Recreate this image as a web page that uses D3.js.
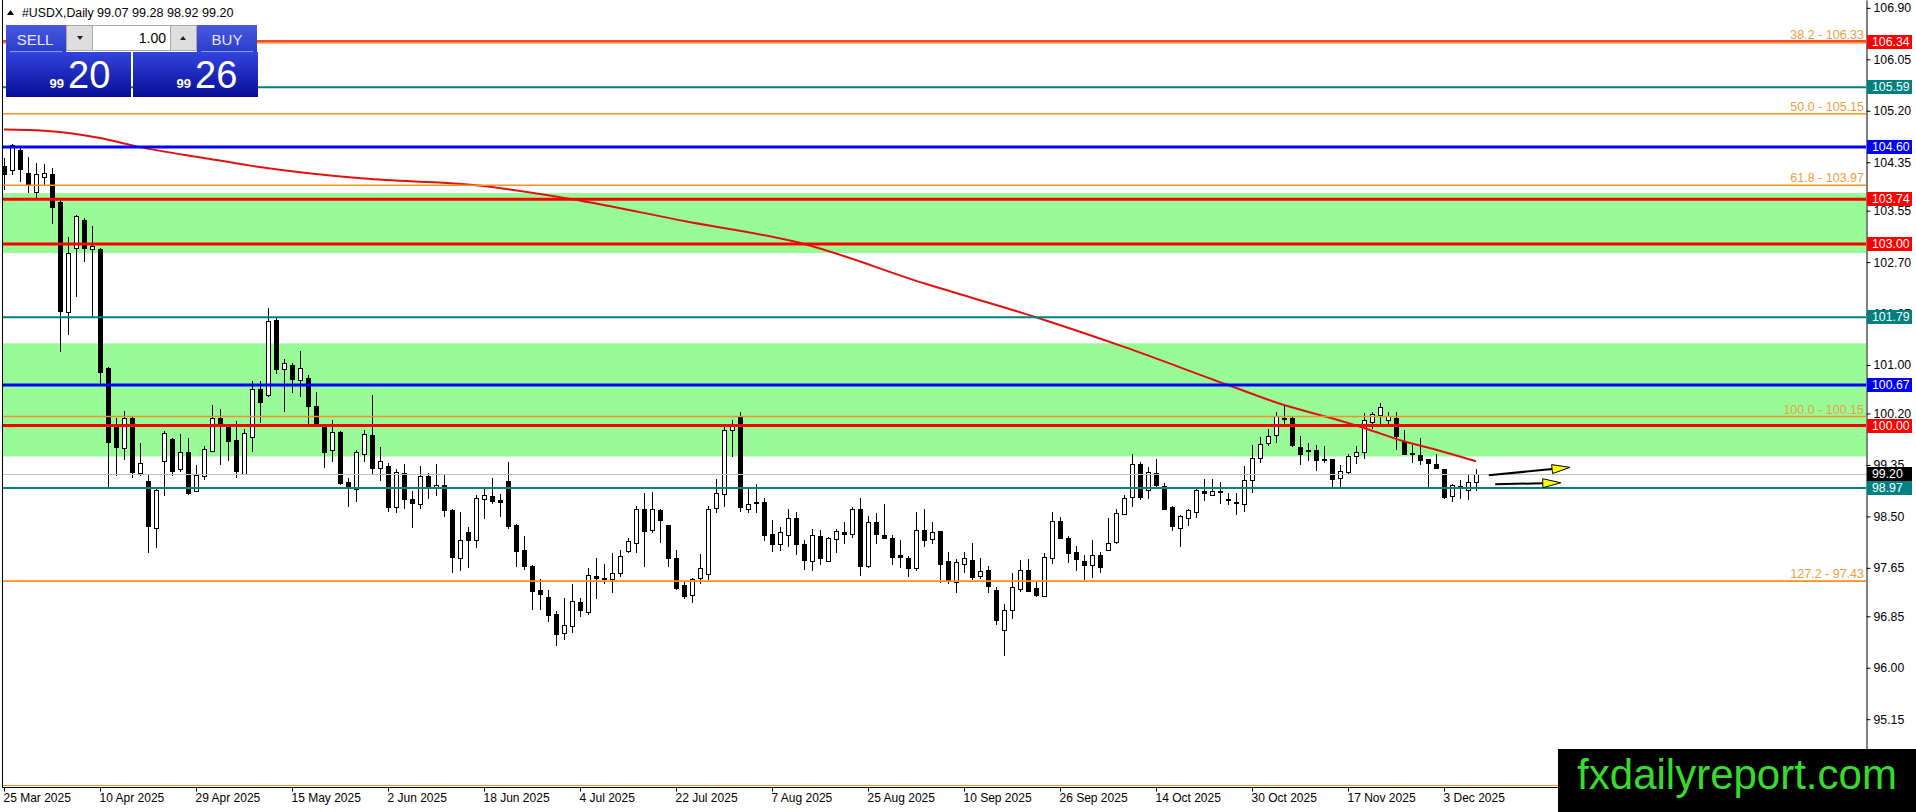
<!DOCTYPE html>
<html>
<head>
<meta charset="utf-8">
<script src="https://cdn.jsdelivr.net/npm/d3@7"></script>
<style>
html, body { margin: 0; padding: 0; background: #fff; overflow: hidden; }
svg { display: block; font-family: "Liberation Sans", Arial, sans-serif; }
</style>
</head>
<body>
<svg id="chart" width="1916" height="812"></svg>
<script>
// values
var symbol = "#USDX,Daily";
var bid = 99.20, ask = 99.26, lots = "1.00";

var opens = [104.28,104.21,104.55,104.18,103.85,104.11,104.15,103.70,101.88,102.94,
  103.40,102.91,102.92,100.95,99.98,99.63,100.13,99.23,99.08,98.31,
  99.40,99.78,99.28,99.56,98.91,99.17,99.58,100.13,99.97,99.76,
  99.19,99.81,100.60,100.51,101.75,100.93,101.00,100.76,100.78,100.32,
  99.98,99.59,99.90,99.06,98.95,99.53,99.84,99.29,99.33,98.66,
  99.21,98.78,98.70,99.17,98.98,99.02,98.61,97.81,98.24,98.10,
  98.78,98.83,98.77,99.08,98.36,97.94,97.68,97.28,97.17,96.88,
  96.56,96.68,97.09,96.92,97.51,97.48,97.46,97.56,97.94,98.06,
  98.62,98.27,98.60,98.36,97.82,97.36,97.19,97.47,97.56,98.63,
  98.87,99.93,100.15,98.62,98.74,98.73,98.21,98.04,98.20,98.47,
  98.04,97.76,98.18,97.76,98.12,98.24,98.20,98.62,97.67,98.40,
  98.20,98.15,97.86,97.81,97.66,98.28,98.14,98.26,97.77,97.41,
  97.72,97.78,97.51,97.61,97.29,96.62,96.95,97.31,97.62,97.31,
  97.19,97.82,98.43,98.15,97.92,97.77,97.70,97.86,97.94,98.08,
  98.55,98.81,99.36,98.93,99.21,99.01,98.66,98.32,98.46,98.57,
  98.92,98.86,98.92,98.78,98.73,98.71,99.11,99.46,99.72,99.84,
  100.13,100.13,99.65,99.60,99.60,99.44,99.45,99.14,99.24,99.49,
  99.56,100.06,100.17,100.10,100.12,99.75,99.55,99.51,99.45,99.36,
  99.29,98.84,99.01,98.94,99.07];
var highs = [104.42,104.65,104.58,104.44,104.33,104.32,104.26,103.73,103.12,103.48,
  103.43,103.29,102.94,100.96,100.12,100.24,100.15,99.71,99.18,98.95,
  99.91,99.80,99.86,99.80,99.35,99.67,100.34,100.28,100.02,100.08,
  99.94,100.73,100.74,101.94,101.77,101.10,101.03,101.23,100.84,100.55,
  99.99,100.09,99.91,99.13,99.60,99.92,100.51,99.65,99.39,99.28,
  99.37,98.92,99.34,99.21,99.37,99.18,98.62,98.57,98.33,98.85,
  98.96,99.13,98.87,99.40,98.38,98.17,97.69,97.47,97.29,96.94,
  97.15,97.39,97.16,97.64,97.82,97.72,97.89,97.94,98.14,98.67,
  98.88,98.91,98.62,98.36,97.95,97.42,97.49,97.88,98.67,99.11,
  99.98,100.09,100.23,98.95,99.03,98.81,98.44,98.32,98.63,98.58,
  98.11,98.29,98.27,98.16,98.29,98.40,98.66,98.80,98.51,98.55,
  98.70,98.20,98.11,97.84,98.58,98.62,98.41,98.26,97.92,97.79,
  97.92,98.06,97.82,97.68,97.34,97.05,97.57,97.78,97.79,97.42,
  97.89,98.58,98.49,98.17,98.01,97.86,98.11,97.92,98.47,98.63,
  98.86,99.53,99.40,99.32,99.44,99.05,98.67,98.52,98.63,98.96,
  99.11,99.11,99.07,98.88,98.89,99.33,99.68,99.81,99.95,100.22,
  100.34,100.14,99.83,99.72,99.68,99.67,99.45,99.35,99.53,99.66,
  100.20,100.22,100.37,100.22,100.22,99.93,99.68,99.79,99.45,99.53,
  99.29,99.03,99.10,99.18,99.28];
var lows = [103.89,104.14,104.03,103.84,103.76,103.98,103.33,101.22,101.49,102.13,
  102.70,101.78,100.68,98.99,99.17,99.43,99.13,99.17,97.89,97.98,
  98.83,99.17,99.23,98.86,98.90,99.10,99.56,99.35,99.41,99.13,
  99.18,99.57,100.05,100.47,100.86,100.23,100.54,100.48,100.01,99.98,
  99.30,99.40,99.02,98.66,98.74,99.40,99.18,99.09,98.58,98.55,
  98.63,98.31,98.63,98.78,98.83,98.49,97.57,97.59,97.65,97.98,
  98.45,98.70,98.49,98.30,97.67,97.61,96.96,96.96,96.75,96.36,
  96.45,96.58,96.83,96.87,97.14,97.39,97.24,97.50,97.89,97.90,
  97.67,98.23,98.06,97.67,97.28,97.14,97.07,97.39,97.45,98.55,
  98.66,99.48,98.58,98.56,98.56,98.10,97.92,97.93,98.00,97.86,
  97.61,97.60,97.70,97.75,97.90,98.04,98.15,97.51,97.64,98.04,
  98.13,97.70,97.64,97.50,97.59,97.99,98.04,97.40,97.39,97.23,
  97.57,97.45,97.46,97.24,96.70,96.19,96.80,97.25,97.25,97.17,
  97.17,97.72,98.12,97.73,97.60,97.45,97.49,97.57,97.93,98.05,
  98.52,98.66,98.77,98.79,98.99,98.63,98.26,98.00,98.34,98.48,
  98.76,98.84,98.70,98.69,98.52,98.58,98.88,99.39,99.66,99.71,
  100.01,99.64,99.35,99.42,99.25,99.39,98.98,98.98,99.20,99.36,
  99.45,99.94,100.01,100.02,99.60,99.53,99.39,99.35,98.99,99.28,
  98.78,98.74,98.78,98.77,98.92];
var closes = [104.15,104.63,104.23,103.98,104.15,104.17,103.60,101.90,102.85,103.47,
  102.93,102.96,100.89,99.73,99.65,100.13,99.24,99.39,98.33,98.93,
  99.87,99.25,99.56,98.89,99.18,99.61,100.13,100.02,99.74,99.24,
  99.87,100.60,100.38,101.73,100.94,101.03,100.77,100.95,100.32,99.99,
  99.57,99.89,99.06,98.99,99.56,99.86,99.30,99.41,98.66,99.24,
  98.78,98.71,99.17,98.98,99.02,98.61,97.83,98.11,98.10,98.80,
  98.85,98.74,98.73,98.33,97.93,97.67,97.27,97.22,96.88,96.55,
  96.70,97.10,96.96,97.53,97.47,97.46,97.56,97.84,98.10,98.62,
  98.25,98.62,98.43,97.82,97.33,97.18,97.46,97.64,98.63,98.88,
  99.93,100.03,98.67,98.71,98.73,98.18,98.05,98.24,98.48,98.04,
  97.77,98.19,97.81,98.14,98.26,98.20,98.62,97.68,98.40,98.20,
  98.15,97.83,97.82,97.65,98.28,98.12,98.25,97.71,97.45,97.74,
  97.82,97.50,97.60,97.34,96.80,96.95,97.33,97.62,97.27,97.20,
  97.83,98.43,98.15,97.90,97.80,97.71,97.86,97.67,98.06,98.56,
  98.81,99.36,98.81,99.23,99.02,98.63,98.34,98.51,98.60,98.93,
  98.88,98.92,98.90,98.79,98.71,99.10,99.47,99.69,99.83,100.16,
  100.11,99.68,99.53,99.58,99.44,99.43,99.12,99.25,99.50,99.56,
  100.09,100.19,100.30,100.16,99.83,99.54,99.53,99.43,99.38,99.29,
  98.83,99.02,98.99,99.07,99.20];

var dateLabels = ["25 Mar 2025","10 Apr 2025","29 Apr 2025","15 May 2025","2 Jun 2025",
  "18 Jun 2025","4 Jul 2025","22 Jul 2025","7 Aug 2025","25 Aug 2025","10 Sep 2025",
  "26 Sep 2025","14 Oct 2025","30 Oct 2025","17 Nov 2025","3 Dec 2025"];
var dateBars = [0,12,24,36,48,60,72,84,96,108,120,132,144,156,168,180];

var priceTicks = [106.90,106.05,105.20,104.35,103.55,102.70,101.85,101.00,
  100.20,99.35,98.50,97.65,96.85,96.00,95.15];

var levelValues = [106.34,105.59,104.60,103.74,103.00,101.79,100.67,100.00,98.97];
var levelKinds = ["zone","pivot","major","zone","zone","pivot","major","zone","pivot"];

var zoneTops = [103.84,101.36];
var zoneBottoms = [102.85,99.49];

var fibRatios = ["38.2","50.0","61.8","100.0","127.2"];
var fibValues = [106.33,105.15,103.97,100.15,97.43];

var maBars = [0,5,12,17,25,31,45,59,71,85,100,115,129,140,153,160,166,170,175,179,184];
var maValues = [104.89,104.87,104.75,104.60,104.42,104.29,104.08,103.97,103.74,103.38,
  103.00,102.35,101.79,101.30,100.67,100.34,100.12,99.96,99.74,99.60,99.41];

var arrowStartBar = [185.6,186.4];
var arrowStartPrice = [99.18,99.03];
var arrowEndBar = [195.75,194.6];
var arrowEndPrice = [99.31,99.055];

// ---- drawing ----
var svg = d3.select("#chart");
var plotRight = 1866, plotBottom = 787;

var x = d3.scaleLinear().domain([0, 184]).range([4, 1476]);
var y = d3.scaleLinear().domain([94.03, 107.03]).range([plotBottom, 0]);

var kindStyle = {
  zone: { color: "#ff0000", width: 3 },
  pivot: { color: "#008080", width: 2 },
  major: { color: "#0000ff", width: 3 }
};

var defs = svg.append("defs");
defs.append("clipPath").attr("id", "plotClip")
  .append("rect").attr("x", 2).attr("y", 0)
  .attr("width", plotRight - 2).attr("height", plotBottom);

var priceGrad = defs.append("linearGradient").attr("id", "priceGrad")
  .attr("x1", 0).attr("y1", 0).attr("x2", 0).attr("y2", 1);
priceGrad.append("stop").attr("offset", "0%").attr("stop-color", "#3244dc");
priceGrad.append("stop").attr("offset", "100%").attr("stop-color", "#080d98");

var btnGrad = defs.append("linearGradient").attr("id", "btnGrad")
  .attr("x1", 0).attr("y1", 0).attr("x2", 0).attr("y2", 1);
btnGrad.append("stop").attr("offset", "0%").attr("stop-color", "#4858e0");
btnGrad.append("stop").attr("offset", "100%").attr("stop-color", "#2c3dcc");

var plot = svg.append("g").attr("clip-path", "url(#plotClip)");

// green zones behind the candles
plot.selectAll("rect.zone")
  .data(zoneTops)
  .join("rect")
  .attr("class", "zone")
  .attr("x", 2)
  .attr("width", plotRight - 2)
  .attr("y", d => y(d))
  .attr("height", (d, i) => y(zoneBottoms[i]) - y(d))
  .attr("fill", "#98fb98");

// candles
var bars = d3.range(opens.length);
var cx = i => Math.round(x(i));

plot.selectAll("line.wick")
  .data(bars)
  .join("line")
  .attr("class", "wick")
  .attr("x1", i => cx(i) + 0.5)
  .attr("x2", i => cx(i) + 0.5)
  .attr("y1", i => Math.round(y(highs[i])))
  .attr("y2", i => Math.round(y(lows[i])))
  .attr("stroke", "#000")
  .attr("stroke-width", 1);

plot.selectAll("rect.body")
  .data(bars)
  .join("rect")
  .attr("class", "body")
  .attr("x", i => cx(i) - 1.5)
  .attr("width", 4)
  .attr("y", i => Math.round(y(Math.max(opens[i], closes[i]))) + 0.5)
  .attr("height", i => Math.max(1, Math.round(Math.abs(y(opens[i]) - y(closes[i])))))
  .attr("fill", i => closes[i] >= opens[i] ? "#fff" : "#000")
  .attr("stroke", "#000")
  .attr("stroke-width", 1);

// moving average
var maLine = d3.line()
  .x((d, k) => x(maBars[k]))
  .y(d => y(d))
  .curve(d3.curveMonotoneX);

plot.append("path")
  .attr("d", maLine(maValues))
  .attr("fill", "none")
  .attr("stroke", "#e01010")
  .attr("stroke-width", 2);

// horizontal levels
plot.selectAll("line.level")
  .data(levelValues)
  .join("line")
  .attr("class", "level")
  .attr("x1", 2)
  .attr("x2", plotRight)
  .attr("y1", d => y(d))
  .attr("y2", d => y(d))
  .attr("stroke", (d, i) => kindStyle[levelKinds[i]].color)
  .attr("stroke-width", (d, i) => kindStyle[levelKinds[i]].width);

// bid line
plot.append("line")
  .attr("x1", 2).attr("x2", plotRight)
  .attr("y1", Math.round(y(bid)) + 0.5).attr("y2", Math.round(y(bid)) + 0.5)
  .attr("stroke", "#c0c0c0");

// fibonacci levels
plot.selectAll("line.fib")
  .data(fibValues)
  .join("line")
  .attr("class", "fib")
  .attr("x1", 2)
  .attr("x2", plotRight)
  .attr("y1", d => y(d))
  .attr("y2", d => y(d))
  .attr("stroke", "#f7901e")
  .attr("stroke-width", 1.6);

plot.append("line")
  .attr("x1", 2).attr("x2", plotRight)
  .attr("y1", plotBottom - 1.5).attr("y2", plotBottom - 1.5)
  .attr("stroke", "#f7901e").attr("stroke-width", 1);

plot.selectAll("text.fib")
  .data(fibValues)
  .join("text")
  .attr("class", "fib")
  .attr("x", plotRight - 2)
  .attr("y", d => y(d) - 3)
  .attr("text-anchor", "end")
  .attr("font-size", "12.5px")
  .attr("fill", "#eba03c")
  .text((d, i) => fibRatios[i] + " - " + d.toFixed(2));

// yellow arrows
var arrows = plot.selectAll("g.arrow")
  .data(arrowStartBar)
  .join("g")
  .attr("class", "arrow");

arrows.each(function(d, i) {
  var x0 = x(d), y0 = y(arrowStartPrice[i]);
  var x1 = x(arrowEndBar[i]), y1 = y(arrowEndPrice[i]);
  var len = Math.hypot(x1 - x0, y1 - y0);
  var ux = (x1 - x0) / len, uy = (y1 - y0) / len;
  var bx = x1 - ux * 18, by = y1 - uy * 18;
  var g = d3.select(this);
  g.append("line")
    .attr("x1", x0).attr("y1", y0).attr("x2", bx).attr("y2", by)
    .attr("stroke", "#000").attr("stroke-width", 2);
  g.append("path")
    .attr("d", "M" + (bx - uy * 4.5) + "," + (by + ux * 4.5) +
      "L" + x1 + "," + y1 +
      "L" + (bx + uy * 4.5) + "," + (by - ux * 4.5) + "Z")
    .attr("fill", "#ffff00")
    .attr("stroke", "#000")
    .attr("stroke-width", 1);
});

// frame
svg.append("line")
  .attr("x1", 2.5).attr("x2", 2.5).attr("y1", 0).attr("y2", plotBottom)
  .attr("stroke", "#000");
svg.append("line")
  .attr("x1", 2).attr("x2", plotRight).attr("y1", plotBottom + 0.5).attr("y2", plotBottom + 0.5)
  .attr("stroke", "#000");

// price axis
var yAxis = svg.append("g")
  .attr("transform", "translate(" + (plotRight + 0.5) + ",0)")
  .call(d3.axisRight(y)
    .tickValues(priceTicks)
    .tickSize(4)
    .tickSizeOuter(0)
    .tickFormat(d3.format(".2f")));
yAxis.attr("font-family", null).attr("font-size", null);
yAxis.selectAll("text").attr("font-size", "12.3px").attr("fill", "#000");
yAxis.select(".domain").attr("stroke", "#000");

// coloured price tags
var tagValues = levelValues.concat([bid]);
var tagColors = levelKinds.map(k => kindStyle[k].color).concat(["#000"]);

var tags = svg.selectAll("g.tag")
  .data(tagValues)
  .join("g")
  .attr("class", "tag")
  .attr("transform", d => "translate(" + (plotRight + 1) + "," + Math.round(y(d)) + ")");

tags.append("rect")
  .attr("x", 0).attr("y", -7).attr("width", 45).attr("height", 14)
  .attr("fill", (d, i) => tagColors[i]);

tags.append("text")
  .attr("x", 5).attr("y", 0).attr("dy", "0.36em")
  .attr("font-size", "12.3px")
  .attr("fill", "#fff")
  .text(d => d.toFixed(2));

// date axis
var xAxis = svg.append("g")
  .attr("transform", "translate(0," + (plotBottom + 0.5) + ")")
  .call(d3.axisBottom(x)
    .tickValues(dateBars)
    .tickSize(4)
    .tickSizeOuter(0)
    .tickFormat((d, i) => dateLabels[i]));
xAxis.attr("font-family", null).attr("font-size", null);
xAxis.select(".domain").remove();
xAxis.selectAll("text")
  .attr("text-anchor", "start")
  .attr("x", -1)
  .attr("y", 6)
  .attr("font-size", "12px")
  .attr("fill", "#000");

// header line
svg.append("path").attr("d", "M7,15L10.5,10L14,15Z").attr("fill", "#000");
svg.append("text").attr("x", 22).attr("y", 17).attr("font-size", "12.3px").text(symbol);
svg.append("text").attr("x", 97).attr("y", 17).attr("font-size", "12.6px")
  .text([opens, highs, lows, closes].map(a => a[a.length - 1].toFixed(2)).join(" "));

// one-click trading panel
var panel = svg.append("g");
panel.append("rect").attr("x", 6).attr("y", 25).attr("width", 60).attr("height", 27).attr("fill", "url(#btnGrad)");
panel.append("rect").attr("x", 197).attr("y", 25).attr("width", 60).attr("height", 27).attr("fill", "url(#btnGrad)");
panel.append("line").attr("x1", 10).attr("x2", 62).attr("y1", 51.5).attr("y2", 51.5).attr("stroke", "#8e9cf0");
panel.append("line").attr("x1", 201).attr("x2", 253).attr("y1", 51.5).attr("y2", 51.5).attr("stroke", "#8e9cf0");
panel.append("text").attr("x", 35).attr("y", 45).attr("text-anchor", "middle")
  .attr("font-size", "15px").attr("fill", "#e4eaff").text("SELL");
panel.append("text").attr("x", 227).attr("y", 45).attr("text-anchor", "middle")
  .attr("font-size", "15px").attr("fill", "#e4eaff").text("BUY");

panel.append("rect").attr("x", 66.5).attr("y", 25.5).attr("width", 130).attr("height", 25)
  .attr("fill", "#fff").attr("stroke", "#a8a8a8");
panel.append("rect").attr("x", 66.5).attr("y", 25.5).attr("width", 26).attr("height", 25)
  .attr("fill", "#dedede").attr("stroke", "#a8a8a8");
panel.append("rect").attr("x", 170.5).attr("y", 25.5).attr("width", 26).attr("height", 25)
  .attr("fill", "#dedede").attr("stroke", "#a8a8a8");
panel.append("path").attr("d", "M77,36L83,36L80,40Z").attr("fill", "#222");
panel.append("path").attr("d", "M180,40L186,40L183,36Z").attr("fill", "#222");
panel.append("text").attr("x", 166).attr("y", 43).attr("text-anchor", "end")
  .attr("font-size", "14px").attr("fill", "#000").text(lots);

var quotes = [bid, ask];
var quoteX = [6, 133];
quotes.forEach(function(q, k) {
  var s = q.toFixed(2).split(".");
  panel.append("rect").attr("x", quoteX[k]).attr("y", 52).attr("width", 125).attr("height", 45)
    .attr("fill", "url(#priceGrad)");
  panel.append("text").attr("x", quoteX[k] + 58).attr("y", 88).attr("text-anchor", "end")
    .attr("font-size", "13px").attr("font-weight", "bold").attr("fill", "#fff").text(s[0]);
  panel.append("text").attr("x", quoteX[k] + 62).attr("y", 88)
    .attr("font-size", "38px").attr("fill", "#fff").text(s[1]);
});

// watermark
svg.append("rect").attr("x", 1558).attr("y", 749).attr("width", 358).attr("height", 63).attr("fill", "#000");
svg.append("text").attr("x", 1737).attr("y", 789).attr("text-anchor", "middle")
  .attr("font-size", "42px").attr("fill", "#36dc2c").text("fxdailyreport.com");
</script>
</body>
</html>
